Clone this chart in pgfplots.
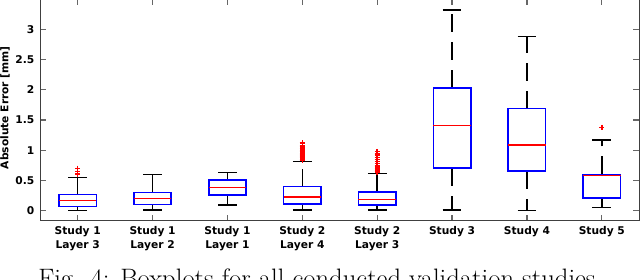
\documentclass[border=0pt]{standalone}
\usepackage{pgfplots}
\pgfplotsset{compat=1.18}
\usepgfplotslibrary{statistics}
\usepackage{fontspec}
\setsansfont{DejaVu Sans}

\begin{document}
\begin{tikzpicture}
\begin{axis}[
  at={(30.2pt,43.7pt)}, anchor=south west, scale only axis,
  width=449.25pt, height=166.3pt,
  xmin=0.5, xmax=8.5, ymin=-0.165, ymax=3.5,
  xtick={1,2,3,4,5,6,7,8},
  xticklabels={{Study 1\\Layer 3},{Study 1\\Layer 2},{Study 1\\Layer 1},{Study 2\\Layer 4},{Study 2\\Layer 3},{Study 3},{Study 4},{Study 5}},
  ytick={0,0.5,1,1.5,2,2.5,3},
  yticklabels={0,0.5,1,1.5,2,2.5,3},
  tick align=inside, tick pos=both, major tick length=4.5pt,
  every tick/.style={black!60, line width=0.9pt},
  axis line style={black!75, line width=1pt},
  ticklabel style={font=\sffamily\bfseries\fontsize{8}{10}\selectfont},
  xticklabel style={align=center, anchor=north, yshift=-1pt},
  yticklabel style={anchor=east, xshift=-1pt},
  ylabel={Absolute Error [mm]},
  ylabel style={font=\sffamily\bfseries\fontsize{8}{10}\selectfont, at={(axis description cs:-0.059,0.51)}, anchor=center},
  boxplot/draw direction=y,
  boxplot/box extend=0.5,
  boxplot/whisker extend=0.25,
  boxplot/every box/.style={draw=blue, line width=1.2pt},
  boxplot/every median/.style={draw=red, line width=1.1pt},
  boxplot/every whisker/.style={draw=black, line width=1.1pt},
  boxplot/draw/lower whisker/.code={%
    \draw[/pgfplots/boxplot/every whisker, dash pattern=on 13.5pt off 7.5pt]
      (boxplot box cs:\pgfplotsboxplotvalue{lower quartile},0.5) --
      (boxplot box cs:\pgfplotsboxplotvalue{lower whisker},0.5);
    \draw[/pgfplots/boxplot/every whisker]
      (boxplot whisker cs:\pgfplotsboxplotvalue{lower whisker},0) --
      (boxplot whisker cs:\pgfplotsboxplotvalue{lower whisker},1);
  },
  boxplot/draw/upper whisker/.code={%
    \draw[/pgfplots/boxplot/every whisker, dash pattern=on 13.5pt off 7.5pt]
      (boxplot box cs:\pgfplotsboxplotvalue{upper quartile},0.5) --
      (boxplot box cs:\pgfplotsboxplotvalue{upper whisker},0.5);
    \draw[/pgfplots/boxplot/every whisker]
      (boxplot whisker cs:\pgfplotsboxplotvalue{upper whisker},0) --
      (boxplot whisker cs:\pgfplotsboxplotvalue{upper whisker},1);
  },
  outl/.style={color=red, mark=+, mark size=2pt, mark options={draw=red, line width=1.1pt, solid}},
]
% Study 1 Layer 3
\addplot[outl, boxplot prepared={lower whisker=0.0, lower quartile=0.07, median=0.17, upper quartile=0.27, upper whisker=0.55, draw position=1}]
  table[row sep=\\, y index=0] {data\\0.60\\0.62\\0.65\\0.70\\};
% Study 1 Layer 2
\addplot[outl, boxplot prepared={lower whisker=0.01, lower quartile=0.105, median=0.205, upper quartile=0.30, upper whisker=0.60, draw position=2}]
  coordinates {};
% Study 1 Layer 1
\addplot[outl, boxplot prepared={lower whisker=0.094, lower quartile=0.265, median=0.386, upper quartile=0.507, upper whisker=0.63, draw position=3}]
  coordinates {};
% Study 2 Layer 4
\addplot[outl, boxplot prepared={lower whisker=0.01, lower quartile=0.116, median=0.23, upper quartile=0.40, upper whisker=0.815, draw position=4}]
  table[row sep=\\, y index=0] {data\\0.83\\0.85\\0.87\\0.89\\0.91\\0.93\\0.95\\0.97\\0.99\\1.02\\1.05\\1.08\\1.12\\};
% Study 2 Layer 3
\addplot[outl, boxplot prepared={lower whisker=0.01, lower quartile=0.094, median=0.19, upper quartile=0.31, upper whisker=0.62, draw position=5}]
  table[row sep=\\, y index=0] {data\\0.64\\0.66\\0.69\\0.72\\0.75\\0.78\\0.81\\0.85\\0.88\\0.92\\0.95\\0.98\\};
% Study 3
\addplot[outl, boxplot prepared={lower whisker=0.01, lower quartile=0.705, median=1.405, upper quartile=2.03, upper whisker=3.32, draw position=6}]
  coordinates {};
% Study 4
\addplot[outl, boxplot prepared={lower whisker=0.0, lower quartile=0.656, median=1.086, upper quartile=1.69, upper whisker=2.88, draw position=7}]
  coordinates {};
% Study 5
\addplot[outl, boxplot prepared={lower whisker=0.056, lower quartile=0.215, median=0.58, upper quartile=0.60, upper whisker=1.17, draw position=8}]
  table[row sep=\\, y index=0] {data\\1.38\\};
\end{axis}
\node[anchor=base west, inner sep=0pt, font=\fontsize{20}{22}\selectfont] at (28.5pt,-6.15pt) {Fig. 4: Boxplots for all conducted validation studies.};
\pgfresetboundingbox
\useasboundingbox (0,0) rectangle (480pt,209.25pt);
\end{tikzpicture}
\end{document}
